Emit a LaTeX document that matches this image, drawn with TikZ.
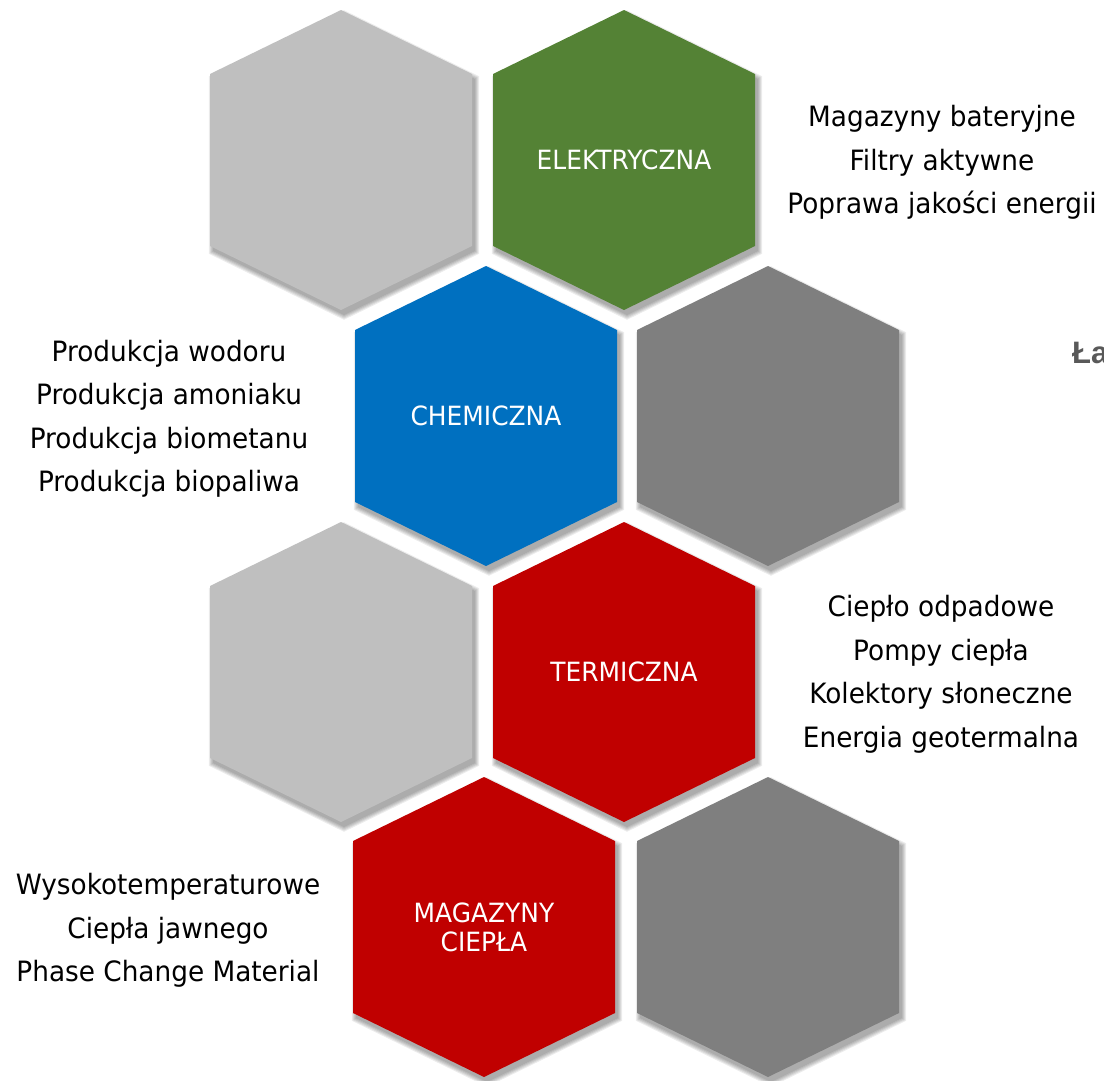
\documentclass[tikz,border=0pt]{standalone}
\usepackage{fontspec}
\setmainfont{DejaVu Sans}[FakeStretch=0.94]
\newfontfamily\arialfont{Liberation Sans}
\definecolor{lgray}{HTML}{BFBFBF}
\definecolor{dgray}{HTML}{7F7F7F}
\definecolor{hgreen}{HTML}{548235}
\definecolor{hblue}{HTML}{0070C0}
\definecolor{hred}{HTML}{C00000}
\definecolor{ttgray}{HTML}{595959}
\tikzset{
  hexagon/.pic={\fill[pic actions] (0,-150) -- (131,-86) -- (131,86) -- (0,150) -- (-131,86) -- (-131,-86) -- cycle;},
  hexshadow/.pic={
    \foreach \s in {1.000,1.008,1.016,1.024,1.032}
      \fill[black,opacity=0.075,shift={(3,5)},scale=\s] (0,-150) -- (131,-86) -- (131,86) -- (0,150) -- (-131,86) -- (-131,-86) -- cycle;},
  hexlabel/.style={text=white,font=\fontsize{26.5}{29}\selectfont,align=center},
  sidetext/.style={text=black,font=\fontsize{28}{43.5}\selectfont,align=center},
}
\begin{document}
\begin{tikzpicture}[x=1pt,y=-1pt]
\useasboundingbox (0,0) rectangle (1104,1080);
\clip (0,0) rectangle (1104,1080);
\fill[white] (0,0) rectangle (1104,1080);
% centres
\coordinate (h1) at (341,160);
\coordinate (h2) at (624,160);
\coordinate (h3) at (486,416);
\coordinate (h4) at (768,416);
\coordinate (h5) at (341,672);
\coordinate (h6) at (624,672);
\coordinate (h7) at (484,927);
\coordinate (h8) at (768,927);
% shadows
\foreach \c in {h1,h2,h3,h4,h5,h6,h7,h8}
  \pic at (\c) {hexshadow};
% hexagons
\pic[fill=lgray] at (h1) {hexagon};
\pic[fill=hgreen] at (h2) {hexagon};
\pic[fill=hblue] at (h3) {hexagon};
\pic[fill=dgray] at (h4) {hexagon};
\pic[fill=lgray] at (h5) {hexagon};
\pic[fill=hred] at (h6) {hexagon};
\pic[fill=hred] at (h7) {hexagon};
\pic[fill=dgray] at (h8) {hexagon};
% labels
\node[hexlabel] (elek) at (h2) {ELEKTRYCZNA};
\node[hexlabel] (chem) at (h3) {CHEMICZNA};
\node[hexlabel] (term) at (h6) {TERMICZNA};
\node[hexlabel] (mag) at (h7) {MAGAZYNY\\CIEPŁA};
% side texts
\node[sidetext] (t1) at (942,162.5) {Magazyny bateryjne\\Filtry aktywne\\Poprawa jakości energii};
\node[sidetext] (t2) at (169,419) {Produkcja wodoru\\Produkcja amoniaku\\Produkcja biometanu\\Produkcja biopaliwa};
\node[sidetext] (t3) at (941,674.5) {Ciepło odpadowe\\Pompy ciepła\\Kolektory słoneczne\\Energia geotermalna};
\node[sidetext] (t4) at (168,930.5) {Wysokotemperaturowe\\Ciepła jawnego\\Phase Change Material};
\node[anchor=base west,inner sep=0pt,text=ttgray,font=\arialfont\bfseries\fontsize{31}{36}\selectfont] (la) at (1072,363) {Ła};
\end{tikzpicture}
\end{document}
